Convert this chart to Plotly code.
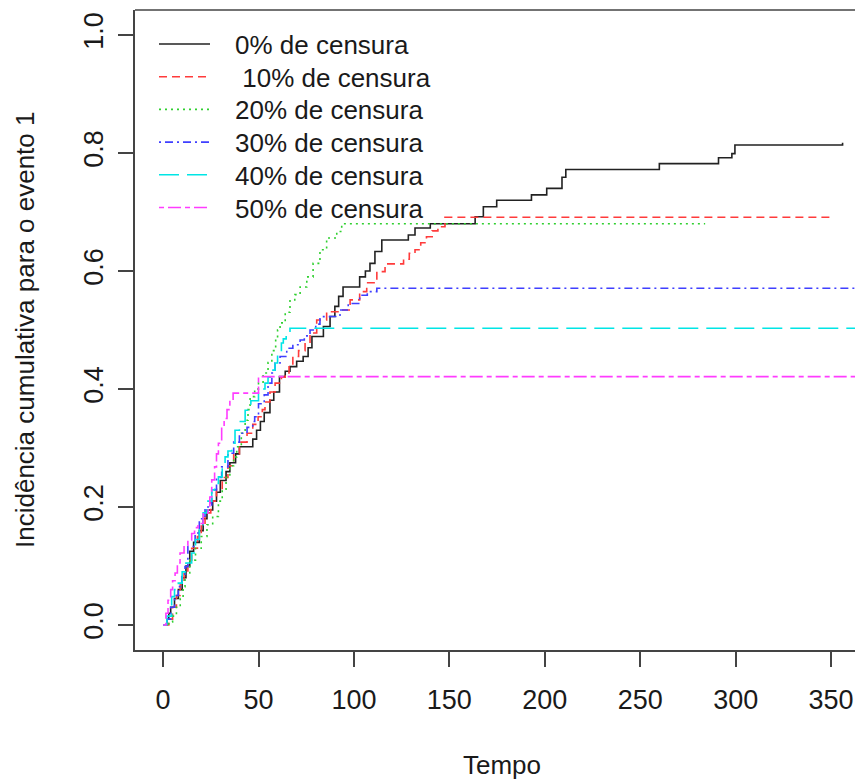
import plotly.graph_objects as go

# ---------------- data ----------------
series_names = ["0% de censura", " 10% de censura", "20% de censura",
                "30% de censura", "40% de censura", "50% de censura"]

t0 = [0, 2, 3, 4, 6, 8, 10, 12, 14, 16, 19, 21, 23, 26, 28, 30, 33, 35, 38, 40, 47, 49, 51, 53,
      56, 58, 61, 64, 66.5, 70, 73.4, 76, 78, 84, 87.5, 90, 92, 94.3, 103, 106, 108.4, 111, 114.6,
      128.5, 132, 140, 163.5, 167.8, 174.8, 193, 201, 209, 211, 260, 291, 298, 299.6, 356]
v0 = [0, 0.01, 0.02, 0.03, 0.045, 0.06, 0.08, 0.1, 0.125, 0.14, 0.16, 0.18, 0.195, 0.21, 0.225,
      0.245, 0.26, 0.275, 0.29, 0.302, 0.315, 0.33, 0.345, 0.36, 0.381, 0.395, 0.421, 0.43, 0.438,
      0.447, 0.455, 0.47, 0.489, 0.506, 0.523, 0.54, 0.557, 0.573, 0.59, 0.6, 0.613, 0.633, 0.6525,
      0.661, 0.673, 0.68, 0.692, 0.709, 0.72, 0.729, 0.74, 0.759, 0.772, 0.782, 0.792, 0.799,
      0.8136, 0.8175]

t10 = [0, 3, 5, 7, 9, 11, 13, 15, 18, 20, 22, 25, 28, 31, 34, 37, 40, 44, 47, 49.8, 52, 53.4, 56,
       58.7, 62, 64, 66, 68, 71, 74.4, 77, 80.5, 85.7, 92.7, 98, 103, 106.7, 112, 116.3, 126, 129,
       132, 135, 138, 141, 144, 147.7, 350]
v10 = [0, 0.01, 0.03, 0.05, 0.07, 0.09, 0.11, 0.13, 0.15, 0.17, 0.19, 0.21, 0.23, 0.25, 0.27, 0.29,
       0.31, 0.325, 0.34, 0.353, 0.365, 0.378, 0.395, 0.41, 0.42, 0.427, 0.44, 0.455, 0.465, 0.478,
       0.495, 0.517, 0.531, 0.534, 0.551, 0.565, 0.58, 0.599, 0.612, 0.62, 0.63, 0.636, 0.648,
       0.658, 0.668, 0.675, 0.691, 0.691]

t20 = [0, 3, 5, 7, 9, 10.5, 11.5, 14, 17, 20, 23, 26, 29, 31, 33, 35, 37, 38.6, 41, 43, 44.5, 45.6,
       48, 50, 52.4, 55, 57, 59, 60, 61.3, 64, 66.5, 69, 71.8, 75.3, 78.6, 82.2, 85.7, 91, 93.6, 284]
v20 = [0, 0.005, 0.015, 0.03, 0.045, 0.065, 0.088, 0.11, 0.13, 0.15, 0.17, 0.184, 0.21, 0.23, 0.25,
       0.27, 0.285, 0.302, 0.325, 0.347, 0.365, 0.387, 0.4, 0.41, 0.427, 0.445, 0.465, 0.485, 0.5,
       0.512, 0.53, 0.551, 0.56, 0.573, 0.59, 0.613, 0.636, 0.656, 0.667, 0.68, 0.68]

t30 = [0, 2, 4, 6, 8, 9.8, 11.5, 13, 16.8, 19, 22, 25.5, 28, 30.7, 34, 37, 40, 44, 47, 48, 50, 53,
       55, 57, 58.7, 61.3, 64.8, 68, 71.8, 74, 77, 80, 82.2, 87.5, 92.7, 97, 103, 107, 112, 380]
v30 = [0, 0.01, 0.03, 0.05, 0.065, 0.082, 0.099, 0.133, 0.156, 0.18, 0.2, 0.229, 0.25, 0.268,
       0.291, 0.31, 0.325, 0.335, 0.345, 0.353, 0.375, 0.39, 0.41, 0.427, 0.444, 0.455, 0.469,
       0.475, 0.483, 0.49, 0.5, 0.51, 0.5226, 0.523, 0.534, 0.545, 0.559, 0.565, 0.5707, 0.5707]

t40 = [0, 2, 4.5, 6, 8, 10, 12, 15, 17, 19, 21, 23, 25.5, 27, 29, 31, 32.5, 34, 36, 37.7, 40, 43, 46,
       50, 52, 53.4, 55, 57, 58.7, 60, 62, 63, 64.5, 66.5, 380]
v40 = [0, 0.015, 0.048, 0.06, 0.071, 0.09, 0.105, 0.122, 0.145, 0.17, 0.19, 0.21, 0.229, 0.24,
       0.251, 0.27, 0.285, 0.295, 0.308, 0.33, 0.345, 0.364, 0.38, 0.393, 0.4, 0.41, 0.42, 0.432,
       0.444, 0.461, 0.478, 0.485, 0.495, 0.503, 0.503]

t50 = [0, 1.5, 2.6, 4, 5, 6.3, 7.5, 8.9, 11, 13, 15, 16.5, 18.3, 21, 23.6, 24.5, 25.5, 27, 28, 29,
       30.7, 32, 33.5, 35, 36.7, 50, 380]
v50 = [0, 0.02, 0.042, 0.06, 0.075, 0.088, 0.105, 0.122, 0.135, 0.144, 0.155, 0.165, 0.172, 0.19,
       0.2, 0.217, 0.246, 0.268, 0.29, 0.308, 0.336, 0.35, 0.365, 0.38, 0.393, 0.421, 0.421]

x_ticks = [0, 50, 100, 150, 200, 250, 300, 350]
y_ticks = [0.0, 0.2, 0.4, 0.6, 0.8, 1.0]
y_tick_labels = ["0.0", "0.2", "0.4", "0.6", "0.8", "1.0"]

# ---------------- styling ----------------
colors = ["#222222", "#ff3b3b", "#2fd02f", "#3f3fff", "#00e5e5", "#ff3cff"]
dashes = ["solid", "8px,5px", "2px,4px", "2px,4px,8px,4px", "20px,8px", "5px,4px,13px,4px"]
FONT = "Liberation Sans, Arial, sans-serif"
TXT = "#1a1a1a"

# the page body has an 8px margin, so the figure is shrunk/shifted to compensate
OFF = 8
W, H = 863 - OFF, 783 - OFF
ML, MR, MT, MB = 135 - OFF, 0, 10 - OFF, 133
PW, PH = W - ML - MR, H - MT - MB

fig = go.Figure()
all_t = [t0, t10, t20, t30, t40, t50]
all_v = [v0, v10, v20, v30, v40, v50]
for name, tt, vv, c, d in zip(series_names, all_t, all_v, colors, dashes):
    fig.add_trace(go.Scatter(x=tt, y=vv, mode="lines", name=name,
                             line=dict(color=c, width=1.6, dash=d, shape="hv"),
                             showlegend=False))

# helpers: window pixel -> paper coordinates
def px_x(p):
    return (p - OFF - ML) / PW

def px_y(p):
    return (H - MB - (p - OFF)) / PH

# manual legend (R style, no box)
shapes = []
annotations = []
for i, (name, c, d) in enumerate(zip(series_names, colors, dashes)):
    yrow = 44 + i * 32.7
    shapes.append(dict(type="line", xref="paper", yref="paper",
                       x0=px_x(159), x1=px_x(210), y0=px_y(yrow), y1=px_y(yrow),
                       line=dict(color=c, width=1.6, dash=d)))
    annotations.append(dict(xref="paper", yref="paper", x=px_x(233), y=px_y(yrow + 1),
                            text=name.replace(" ", "&nbsp;", 1) if name.startswith(" ") else name,
                            showarrow=False, xanchor="left", yanchor="middle",
                            font=dict(family=FONT, size=26, color=TXT)))

# top border of the box
shapes.append(dict(type="line", xref="paper", yref="paper", x0=0, x1=1, y0=1, y1=1,
                   line=dict(color="#444444", width=1.6)))

annotations.append(dict(xref="paper", yref="paper", x=px_x(502), y=px_y(765),
                        text="Tempo", showarrow=False, xanchor="center", yanchor="middle",
                        font=dict(family=FONT, size=26, color=TXT)))
annotations.append(dict(xref="paper", yref="paper", x=px_x(25), y=px_y(330),
                        text="Incidência cumulativa para o evento 1", textangle=-90,
                        showarrow=False, xanchor="center", yanchor="middle",
                        font=dict(family=FONT, size=26, color=TXT)))

fig.update_layout(
    width=W, height=H,
    margin=dict(l=ML, r=MR, t=MT, b=MB, pad=0),
    paper_bgcolor="white", plot_bgcolor="white",
    showlegend=False,
    shapes=shapes, annotations=annotations,
    font=dict(family=FONT, color=TXT),
)
fig.update_xaxes(range=[-14.7, 366.7], tickvals=x_ticks, ticks="outside", ticklen=15,
                 tickwidth=1.5, tickcolor="#444444", showline=True, linecolor="#444444",
                 linewidth=1.6, showgrid=False, zeroline=False,
                 tickfont=dict(family=FONT, size=27, color=TXT), ticklabelstandoff=10)
fig.update_yaxes(range=[-0.0424, 1.0424], tickvals=y_ticks, ticktext=y_tick_labels,
                 ticks="outside", ticklen=15, tickwidth=1.5, tickcolor="#444444",
                 showline=True, linecolor="#444444", linewidth=1.6, showgrid=False,
                 zeroline=False, tickangle=-90,
                 tickfont=dict(family=FONT, size=27, color=TXT), ticklabelstandoff=4)

fig.write_html("out.html")
